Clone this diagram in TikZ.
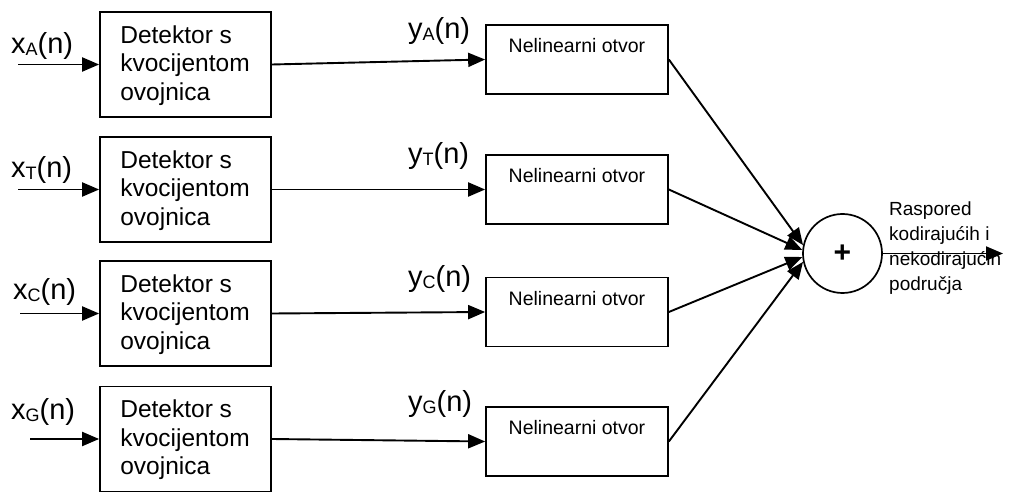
\documentclass[tikz,border=0pt]{standalone}
\usepackage{fontspec}
\setmainfont{Liberation Sans}
\usetikzlibrary{arrows.meta,calc}
\newcommand{\sig}[2]{#1\raisebox{-1.5pt}{\fontsize{18}{18}\selectfont #2}(n)}
\tikzset{
  conn/.style={line width=1.9pt},
  arr/.style={conn,-{Triangle[length=17pt,width=14pt]}},
  detbox/.style={draw,line width=1.7pt,minimum width=171pt,minimum height=105pt,inner sep=0pt},
  dettext/.style={anchor=west,align=left,inner sep=0pt,font=\fontsize{24.5}{28.5}\selectfont},
  nlbox/.style={draw,line width=1.7pt,minimum width=182pt,minimum height=69pt,inner sep=0pt},
  nltext/.style={anchor=base,inner sep=0pt,font=\fontsize{19.5}{22}\selectfont},
  siglabel/.style={anchor=base west,inner sep=0pt,font=\fontsize{29}{32}\selectfont},
  sumnode/.style={draw,circle,line width=1.7pt,minimum size=79pt,inner sep=0pt,font=\fontsize{30}{30}\selectfont\bfseries},
  outtext/.style={anchor=base west,inner sep=0pt,font=\fontsize{19}{25}\selectfont}
}
\begin{document}
\begin{tikzpicture}[x=1pt,y=-1pt]
\useasboundingbox (0,0) rectangle (1010,494);
% detector boxes
\node[detbox] (d1) at (185.5,64.5) {};
\node[detbox] (d2) at (185.5,189.5) {};
\node[detbox] (d3) at (185.5,313.5) {};
\node[detbox] (d4) at (185.5,439) {};
\foreach \i in {1,2,3,4}{
  \node[dettext] (dt\i) at ($(d\i.west)+(21,1)$) {Detektor s\\kvocijentom\\ovojnica};
}
% nonlinear boxes
\node[nlbox] (n1) at (577,59.5) {};
\node[nlbox] (n2) at (577,189.5) {};
\node[nlbox] (n3) at (577,312) {};
\node[nlbox] (n4) at (577,441.5) {};
\foreach \i in {1,2,3,4}{
  \node[nltext] (nt\i) at ($(n\i.north)+(0,28.5)$) {Nelinearni otvor};
}
% sum
\node[sumnode] (s) at (842.5,253.5) {+};
% input coordinates
\coordinate (i1) at (18,64.5);
\coordinate (i2) at (18,189.5);
\coordinate (i3) at (20,313.5);
\coordinate (i4) at (30,439);
\coordinate (o) at (1003,253.5);
% labels
\node[siglabel] (xa) at (11,54) {\sig{x}{A}};
\node[siglabel] (xt) at (11,178) {\sig{x}{T}};
\node[siglabel] (xc) at (13,300) {\sig{x}{C}};
\node[siglabel] (xg) at (11,420) {\sig{x}{G}};
\node[siglabel] (ya) at (408,39) {\sig{y}{A}};
\node[siglabel] (yt) at (408,164) {\sig{y}{T}};
\node[siglabel] (yc) at (408,287) {\sig{y}{C}};
\node[siglabel] (yg) at (408,412) {\sig{y}{G}};
% connectors
\foreach \i in {1,2,3,4}{
  \draw[arr] (i\i) -- (d\i.west);
  \draw[arr] (d\i.east) -- (n\i.west);
}
\draw[arr] (n1.east) -- (s.168);
\draw[arr] (n2.east) -- (s.175);
\draw[arr] (n3.east) -- (s.185);
\draw[arr] (n4.east) -- (s.192);
\draw[arr] (s.east) -- (o);
% output text
\node[outtext,align=left,anchor=north west] (ot) at (889,202) {Raspored\\kodirajućih i\\nekodirajućih\\područja};
\end{tikzpicture}
\end{document}
